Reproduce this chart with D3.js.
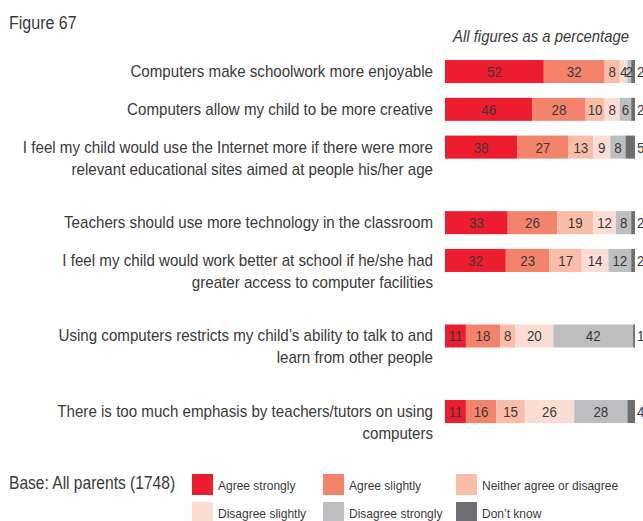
<!DOCTYPE html>
<html><head><meta charset="utf-8">
<script src="https://cdn.jsdelivr.net/npm/d3@7/dist/d3.min.js"></script>
<style>
html,body{margin:0;padding:0;background:#fff;}
text{font-family:"Liberation Sans",Arial,sans-serif;fill:#3a3a3a;}
</style></head>
<body><svg id="c" width="643" height="521"></svg>
<script>
const categories = [
  ["Computers make schoolwork more enjoyable"],
  ["Computers allow my child to be more creative"],
  ["I feel my child would use the Internet more if there were more","relevant educational sites aimed at people his/her age"],
  ["Teachers should use more technology in the classroom"],
  ["I feel my child would work better at school if he/she had","greater access to computer facilities"],
  ["Using computers restricts my child\u2019s ability to talk to and","learn from other people"],
  ["There is too much emphasis by teachers/tutors on using","computers"]
];
const seriesNames = ["Agree strongly","Agree slightly","Neither agree or disagree","Disagree slightly","Disagree strongly","Don\u2019t know"];
const agreeStrongly   = [52,46,38,33,32,11,11];
const agreeSlightly   = [32,28,27,26,23,18,16];
const neither         = [8,10,13,19,17,8,15];
const disagreeSlightly= [4,8,9,12,14,20,26];
const disagreeStrongly= [2,6,8,8,12,42,28];
const dontKnow        = [2,2,5,2,2,1,4];
const colors = ["#ED1C2E","#F3836B","#F9BDA8","#FCDDD3","#BCBEC0","#6D6E71"];

const series = [agreeStrongly,agreeSlightly,neither,disagreeSlightly,disagreeStrongly,dontKnow];
const rows = categories.map((c,i)=>{
  const o = {label:c};
  seriesNames.forEach((s,j)=>o[s]=series[j][i]);
  return o;
});
// slot index: a two-line label pushes following rows down by one slot
let slot = 0;
rows.forEach(r=>{ r.slot = slot; slot += r.label.length; });
const nSlots = rows[rows.length-1].slot + 1;

const svg = d3.select("#c");
const x = d3.scaleLinear().domain([0,100]).range([445,635]);
const y = d3.scaleBand().domain(d3.range(nSlots)).range([45.3,437.8]).padding(0.39);
const color = d3.scaleOrdinal().domain(seriesNames).range(colors);

// condensed look: measure a few labels and compress horizontally to the reference width
const probeLines = [categories[0][0],categories[1][0],categories[2][0],categories[3][0]];
let tot = 0;
probeLines.forEach(s=>{
  const p = svg.append("text").style("font-size","17px").text(s);
  tot += p.node().getComputedTextLength();
  p.remove();
});
const K = 1389 / tot;

function txt(parent, px, py, str, size, anchor, italic){
  const t = parent.append("text")
    .attr("transform",`translate(${px},${py}) scale(${K},1)`)
    .attr("text-anchor",anchor||"start")
    .style("font-size",size+"px")
    .text(str);
  if(italic) t.style("font-style","italic");
  return t;
}

const stack = d3.stack().keys(seriesNames)(rows);

txt(svg,9,29,"Figure 67",18);
txt(svg,629,42,"All figures as a percentage",16.7,"end",true);

const g = svg.append("g");
const layers = g.selectAll("g.layer").data(stack).join("g").attr("class","layer")
  .attr("fill",d=>color(d.key));
layers.selectAll("rect").data(d=>d).join("rect")
  .attr("x",d=>x(d[0])).attr("width",d=>x(d[1])-x(d[0]))
  .attr("y",d=>y(d.data.slot)).attr("height",y.bandwidth());

// value labels
stack.forEach((layer,li)=>{
  const last = li===stack.length-1;
  layer.forEach(d=>{
    const px = last ? x(d[1])+2 : (x(d[0])+x(d[1]))/2;
    const py = y(d.data.slot)+y.bandwidth()/2+5.5;
    txt(g,px,py,d.data[layer.key],15,last?"start":"middle");
  });
});

// category labels
rows.forEach(r=>{
  r.label.forEach((line,k)=>{
    txt(svg,433,y(r.slot)+y.bandwidth()/2+5.5+k*22,line,17,"end");
  });
});

// legend
txt(svg,9,489,"Base: All parents (1748)",17.5);
const legX = [192,323,456];
const legY = [474,502];
const leg = svg.selectAll("g.leg").data(seriesNames).join("g").attr("class","leg")
  .attr("transform",(d,i)=>`translate(${legX[i%3]},${legY[Math.floor(i/3)]})`);
leg.append("rect").attr("width",21).attr("height",21).attr("fill",d=>color(d));
leg.each(function(d){ txt(d3.select(this),26,16,d,13.5); });
</script></body></html>
